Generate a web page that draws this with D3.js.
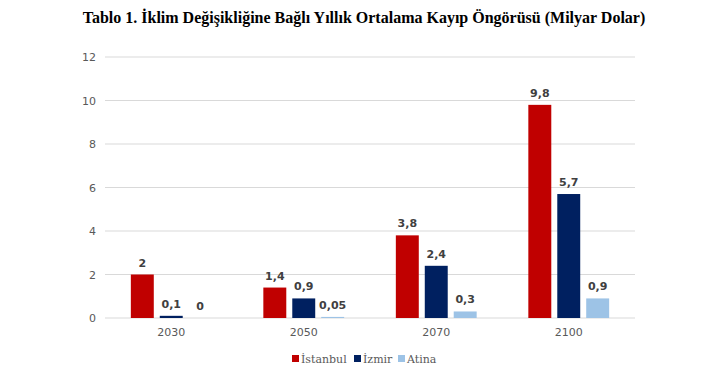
<!DOCTYPE html>
<html>
<head>
<meta charset="utf-8">
<script src="https://cdn.jsdelivr.net/npm/d3@7"></script>
<style>
  body { margin: 0; background: #fff; }
  .axis path, .axis line { display: none; }
</style>
</head>
<body>
<div id="chart"></div>
<script>
var years = ["2030", "2050", "2070", "2100"];
var cities = ["İstanbul", "İzmir", "Atina"];
var istanbul = [2, 1.4, 3.8, 9.8];
var izmir = [0.1, 0.9, 2.4, 5.7];
var atina = [0, 0.05, 0.3, 0.9];
var yTicks = [0, 2, 4, 6, 8, 10, 12];
var colors = ["#C00000", "#002060", "#9DC3E6"];

var seriesValues = [istanbul, izmir, atina];
var width = 728, height = 379;
var margin = {top: 57, right: 93, bottom: 61, left: 105};
var chartW = width - margin.left - margin.right,
  chartH = height - margin.top - margin.bottom;

var svg = d3.select("#chart").append("svg")
  .attr("width", width)
  .attr("height", height);

svg.append("text")
  .attr("x", width / 2)
  .attr("y", 23)
  .attr("text-anchor", "middle")
  .style("font-family", "'Liberation Serif', 'Times New Roman', serif")
  .style("font-weight", "bold")
  .style("font-size", "16px")
  .style("fill", "#000")
  .text("Tablo 1. İklim Değişikliğine Bağlı Yıllık Ortalama Kayıp Öngörüsü (Milyar Dolar)");

var g = svg.append("g")
  .attr("transform", "translate(" + margin.left + "," + margin.top + ")");

var x0 = d3.scaleBand()
  .domain(years)
  .range([0, chartW])
  .paddingInner(0.39)
  .paddingOuter(0.195);

var x1 = d3.scaleBand()
  .domain(cities)
  .range([0, x0.bandwidth()])
  .paddingInner(0.207);

var y = d3.scaleLinear()
  .domain([0, 12])
  .range([chartH, 0]);

// gridlines
g.selectAll(".grid")
  .data(yTicks)
  .enter().append("line")
  .attr("x1", 0)
  .attr("x2", chartW)
  .attr("y1", function(d) { return y(d); })
  .attr("y2", function(d) { return y(d); })
  .attr("stroke", "#d9d9d9")
  .attr("stroke-width", 1);

var yAxis = g.append("g").attr("class", "axis")
  .call(d3.axisLeft(y).tickValues(yTicks).tickSize(0).tickPadding(9));
yAxis.selectAll("text")
  .style("font-family", "Verdana, 'DejaVu Sans', sans-serif")
  .style("font-size", "11px")
  .style("fill", "#595959");

var xAxis = g.append("g").attr("class", "axis")
  .attr("transform", "translate(0," + chartH + ")")
  .call(d3.axisBottom(x0).tickSize(0).tickPadding(10));
xAxis.selectAll("text")
  .style("font-family", "Verdana, 'DejaVu Sans', sans-serif")
  .style("font-size", "11px")
  .style("fill", "#595959");

var rows = years.map(function(yr, i) {
  return { year: yr, vals: cities.map(function(c, j) { return { city: c, idx: j, v: seriesValues[j][i] }; }) };
});

var groups = g.selectAll(".year")
  .data(rows)
  .enter().append("g")
  .attr("class", "year")
  .attr("transform", function(d) { return "translate(" + x0(d.year) + ",0)"; });

groups.selectAll("rect")
  .data(function(d) { return d.vals; })
  .enter().append("rect")
  .attr("x", function(d) { return x1(d.city); })
  .attr("y", function(d) { return y(d.v); })
  .attr("width", x1.bandwidth())
  .attr("height", function(d) { return chartH - y(d.v); })
  .attr("fill", function(d) { return colors[d.idx]; });

groups.selectAll(".lbl")
  .data(function(d) { return d.vals; })
  .enter().append("text")
  .attr("class", "lbl")
  .attr("x", function(d) { return x1(d.city) + x1.bandwidth() / 2; })
  .attr("y", function(d) { return y(d.v) - 8; })
  .attr("text-anchor", "middle")
  .style("font-family", "Verdana, 'DejaVu Sans', sans-serif")
  .style("font-size", "11px")
  .style("font-weight", "bold")
  .style("fill", "#404040")
  .text(function(d) { return String(d.v).replace(".", ","); });

// legend
var legendX = [292, 354, 398];
var legend = svg.append("g");
cities.forEach(function(c, i) {
  legend.append("rect")
    .attr("x", legendX[i])
    .attr("y", 355)
    .attr("width", 7)
    .attr("height", 7)
    .attr("fill", colors[i]);
  legend.append("text")
    .attr("x", legendX[i] + 9)
    .attr("y", 363)
    .style("font-family", "'DejaVu Serif', Cambria, serif")
    .style("font-size", "11px")
    .style("fill", "#595959")
    .text(c);
});
</script>
</body>
</html>
